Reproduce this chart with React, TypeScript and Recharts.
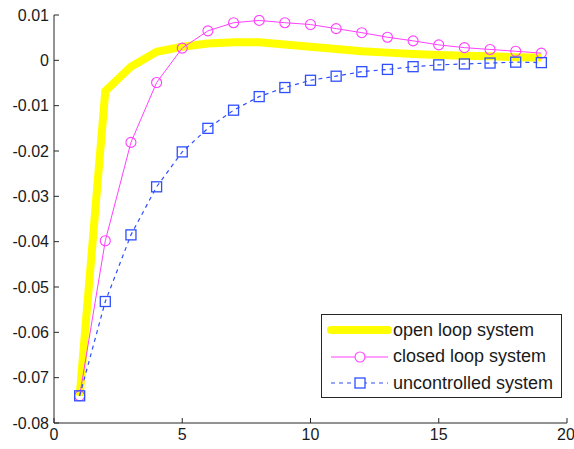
import React from "react";
import { LineChart, Line, XAxis, YAxis } from "recharts";

// time steps 1..19
const steps = [1, 2, 3, 4, 5, 6, 7, 8, 9, 10, 11, 12, 13, 14, 15, 16, 17, 18, 19];

const openLoop = [
  -0.074, -0.0068, -0.0014, 0.0019, 0.003, 0.0037, 0.004, 0.004, 0.0035, 0.003,
  0.0025, 0.002, 0.0017, 0.0014, 0.0012, 0.001, 0.0009, 0.0007, 0.0006,
];

const closedLoop = [
  -0.074, -0.0398, -0.0181, -0.0049, 0.0027, 0.0065, 0.0083, 0.0088, 0.0083, 0.0079,
  0.007, 0.0061, 0.0051, 0.0043, 0.0034, 0.0028, 0.0024, 0.002, 0.0016,
];

const uncontrolled = [
  -0.074, -0.0532, -0.0385, -0.0279, -0.0202, -0.015, -0.011, -0.008, -0.006, -0.0044,
  -0.0035, -0.0025, -0.002, -0.0014, -0.001, -0.0008, -0.0006, -0.0004, -0.0005,
];

const xTicks = [0, 5, 10, 15, 20];
const yTicks = [-0.08, -0.07, -0.06, -0.05, -0.04, -0.03, -0.02, -0.01, 0, 0.01];

const data = steps.map((t, i) => ({
  t,
  open: openLoop[i],
  closed: closedLoop[i],
  unc: uncontrolled[i],
}));

const YELLOW = "#ffff00";
const MAGENTA = "#ff40ff";
const BLUE = "#2f4fff";
const AXIS = "#262626";
const FONT = "'Liberation Sans', Arial, sans-serif";

const fmtY = (v: number) => String(Number(v.toFixed(2)));

function SquareDot(props: any) {
  const { cx, cy } = props;
  if (cx == null || cy == null) return null;
  return <rect x={cx - 5} y={cy - 5} width={10} height={10} fill="none" stroke={BLUE} strokeWidth={1.3} />;
}

function CircleDot(props: any) {
  const { cx, cy } = props;
  if (cx == null || cy == null) return null;
  return <circle cx={cx} cy={cy} r={5} fill="none" stroke={MAGENTA} strokeWidth={1.1} />;
}

function LegendBox() {
  const rows = [
    { label: "open loop system", kind: "open" },
    { label: "closed loop system", kind: "closed" },
    { label: "uncontrolled system", kind: "unc" },
  ];
  return (
    <div
      style={{
        position: "absolute",
        left: 321,
        top: 314,
        width: 239,
        height: 82,
        border: `1px solid ${AXIS}`,
        background: "#fff",
        fontFamily: FONT,
        fontSize: 18,
        color: "#1a1a1a",
      }}
    >
      {rows.map((r, i) => (
        <div key={r.kind} style={{ position: "absolute", left: 0, top: 3 + i * 26.5, height: 24, display: "flex", alignItems: "center" }}>
          <svg width={70} height={24} style={{ display: "block" }}>
            {r.kind === "open" && <line x1={9} y1={12} x2={66} y2={12} stroke={YELLOW} strokeWidth={8} strokeLinecap="round" />}
            {r.kind === "closed" && (
              <>
                <line x1={9} y1={12} x2={66} y2={12} stroke={MAGENTA} strokeWidth={1} />
                <circle cx={38} cy={12} r={5} fill="#fff" stroke={MAGENTA} strokeWidth={1.1} />
              </>
            )}
            {r.kind === "unc" && (
              <>
                <line x1={9} y1={12} x2={66} y2={12} stroke={BLUE} strokeWidth={1.2} strokeDasharray="4 4" />
                <rect x={33} y={7} width={10} height={10} fill="#fff" stroke={BLUE} strokeWidth={1.3} />
              </>
            )}
          </svg>
          <span style={{ marginLeft: 1, whiteSpace: "nowrap" }}>{r.label}</span>
        </div>
      ))}
    </div>
  );
}

export default function App() {
  const tickStyle = { fill: "#1a1a1a", fontSize: 16, fontFamily: FONT };
  return (
    <div style={{ position: "absolute", left: 0, top: 0, width: 574, height: 449, background: "#fff" }}>
      <LineChart width={574} height={449} data={data} margin={{ top: 15, right: 7, bottom: 0, left: 0 }}>
        <XAxis
          dataKey="t"
          type="number"
          domain={[0, 20]}
          ticks={xTicks}
          height={26}
          stroke={AXIS}
          tickSize={-5}
          tickMargin={11}
          tick={tickStyle}
          allowDataOverflow
        />
        <XAxis
          xAxisId="top"
          orientation="top"
          dataKey="t"
          type="number"
          domain={[0, 20]}
          ticks={xTicks}
          height={0}
          stroke={AXIS}
          tickSize={-5}
          tick={false}
          allowDataOverflow
        />
        <YAxis
          type="number"
          domain={[-0.08, 0.01]}
          ticks={yTicks}
          width={54}
          stroke={AXIS}
          tickSize={-5}
          tickMargin={10}
          tick={tickStyle}
          tickFormatter={fmtY}
          allowDataOverflow
        />
        <YAxis
          yAxisId="right"
          orientation="right"
          type="number"
          domain={[-0.08, 0.01]}
          ticks={yTicks}
          width={0}
          stroke={AXIS}
          tickSize={-5}
          tick={false}
          allowDataOverflow
        />
        <Line dataKey="open" stroke={YELLOW} strokeWidth={8} dot={false} isAnimationActive={false} />
        <Line dataKey="closed" stroke={MAGENTA} strokeWidth={1} dot={<CircleDot />} isAnimationActive={false} />
        <Line dataKey="unc" stroke={BLUE} strokeWidth={1.2} strokeDasharray="4 4" dot={<SquareDot />} isAnimationActive={false} />
      </LineChart>
      <LegendBox />
    </div>
  );
}
